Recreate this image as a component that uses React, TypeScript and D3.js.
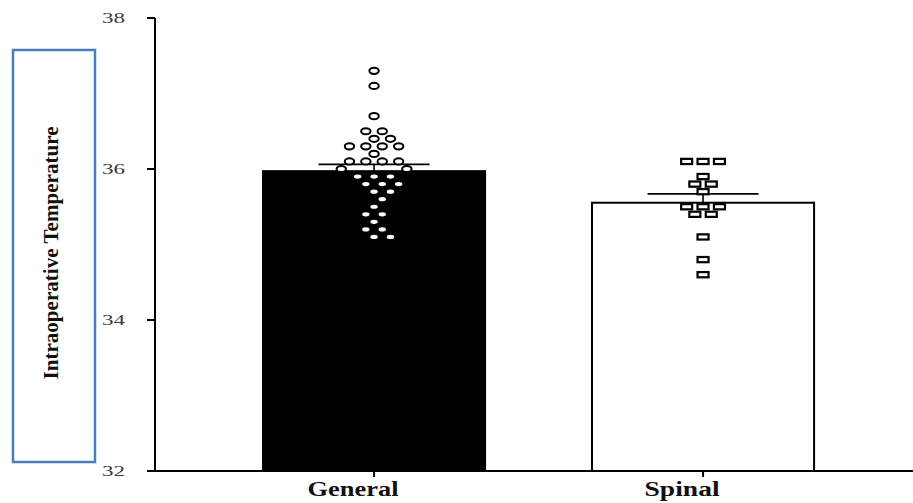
import React from 'react';
import * as d3 from 'd3';

// values (one entry per patient)
const categories = ['General', 'Spinal'];
const generalTemps = [
  37.3, 37.1, 36.7, 36.5, 36.5, 36.4, 36.4, 36.3, 36.3, 36.3, 36.3, 36.2,
  36.1, 36.1, 36.1, 36.1, 36.0, 36.0, 35.9, 35.9, 35.9, 35.8, 35.8, 35.8,
  35.7, 35.7, 35.6, 35.5, 35.4, 35.4, 35.3, 35.2, 35.2, 35.1, 35.1,
];
const spinalTemps = [
  36.1, 36.1, 36.1, 35.9, 35.8, 35.8, 35.7, 35.5, 35.5, 35.5, 35.4, 35.4,
  35.1, 34.8, 34.6,
];
const yTicks = [32, 34, 36, 38];
const yLabel = 'Intraoperative Temperature';

const width = 913;
const height = 503;
const serif = '"Liberation Serif", "Times New Roman", serif';

// simple row based swarm: rows of equal values, centred when possible
const swarm = (values, cx, y, slot, cw, ch) => {
  const rows = d3.groups(values, (v) => v)
    .sort((a, b) => b[1].length - a[1].length || b[0] - a[0]);
  const placed = [];
  const hits = (x, yy, list) =>
    list.some((p) => ((p.x - x) / cw) ** 2 + ((p.y - yy) / ch) ** 2 < 1);

  rows.forEach(([v, arr]) => {
    const n = arr.length;
    const yy = y(v);
    let done = false;
    for (const shift of [0, 1, -1]) {
      const xs = d3.range(n).map((i) => cx + (2 * i - (n - 1) + shift) * slot);
      if (xs.every((x) => !hits(x, yy, placed))) {
        xs.forEach((x) => placed.push({ value: v, x, y: yy }));
        done = true;
        break;
      }
    }
    if (!done) {
      arr.forEach(() => {
        for (let k = 0; k < 40; k++) {
          const off = k % 2 === 0 ? k / 2 : -(k + 1) / 2;
          const c = -off;
          const x = cx + c * slot;
          if (!hits(x, yy, placed)) {
            placed.push({ value: v, x, y: yy });
            break;
          }
        }
      });
    }
  });
  return placed;
};

const stats = (vals) => {
  const m = d3.mean(vals);
  const sem = d3.deviation(vals) / Math.sqrt(vals.length);
  return { m, sem };
};

export default function App() {
  const x = d3.scaleBand()
    .domain(categories)
    .range([155, 913])
    .paddingInner(0.325)
    .paddingOuter(0.3145)
    .align(0.522);
  const y = d3.scaleLinear().domain([32, 38]).range([471, 18]);

  const groups = [
    { name: categories[0], vals: generalTemps, fill: '#000' },
    { name: categories[1], vals: spinalTemps, fill: '#fff' },
  ];
  const bw = x.bandwidth();
  const slot = 8.2;

  return (
    <svg width={width} height={height} style={{ position: 'absolute', left: 0, top: 0 }}>
      <rect width={width} height={height} fill="#fff" />

      {/* label box */}
      <rect x={13} y={50} width={82} height={412} fill="#fff" stroke="#4a7ebb" strokeWidth={2.5} />
      <text
        transform="translate(58,253) rotate(-90)"
        textAnchor="middle"
        fontFamily={serif}
        fontWeight="bold"
        fontSize={20}
        textLength={253}
        lengthAdjust="spacingAndGlyphs"
        fill="#111"
      >
        {yLabel}
      </text>

      {/* bars */}
      {groups.map((g) => {
        const s = stats(g.vals);
        const cx = x(g.name) + bw / 2;
        return (
          <g key={g.name}>
            <rect
              x={x(g.name)}
              y={y(s.m)}
              width={bw}
              height={y(32) - y(s.m)}
              fill={g.fill}
              stroke="#000"
              strokeWidth={2}
            />
            <line x1={cx} x2={cx} y1={y(s.m)} y2={y(s.m + s.sem)} stroke="#000" strokeWidth={1.6} />
            <line x1={cx - bw / 4} x2={cx + bw / 4} y1={y(s.m + s.sem)} y2={y(s.m + s.sem)} stroke="#000" strokeWidth={1.6} />
          </g>
        );
      })}

      {/* points */}
      {swarm(generalTemps, x('General') + bw / 2, y, slot, 12, 8.5).map((p, i) => (
        <ellipse key={'g' + i} cx={p.x} cy={p.y} rx={4.7} ry={3.1} fill="#fff" stroke="#000" strokeWidth={2} />
      ))}
      {swarm(spinalTemps, x('Spinal') + bw / 2, y, slot, 12, 8.5).map((p, i) => (
        <rect key={'s' + i} x={p.x - 5.5} y={p.y - 2.6} width={11} height={5.2} fill="#fff" stroke="#000" strokeWidth={2.2} />
      ))}

      {/* axes */}
      <line x1={155} x2={155} y1={18} y2={471} stroke="#000" strokeWidth={2} />
      {yTicks.map((t) => (
        <g key={t}>
          <line x1={147} x2={155} y1={y(t)} y2={y(t)} stroke="#000" strokeWidth={2} />
          <text
            x={102}
            y={y(t)}
            dy="0.35em"
            fontFamily={serif}
            fontSize={15}
            textLength={23}
            lengthAdjust="spacingAndGlyphs"
            fill="#3a3a3a"
          >
            {t}
          </text>
        </g>
      ))}
      <line x1={154} x2={913} y1={471} y2={471} stroke="#000" strokeWidth={2} />
      {categories.map((c, i) => {
        const cx = x(c) + bw / 2;
        return (
          <g key={c}>
            <line x1={cx} x2={cx} y1={471} y2={477} stroke="#000" strokeWidth={2} />
            <text
              x={cx - 21}
              y={496}
              textAnchor="middle"
              fontFamily={serif}
              fontWeight="bold"
              fontSize={20}
              textLength={i === 0 ? 91 : 75}
              lengthAdjust="spacingAndGlyphs"
              fill="#111"
            >
              {c}
            </text>
          </g>
        );
      })}
    </svg>
  );
}
